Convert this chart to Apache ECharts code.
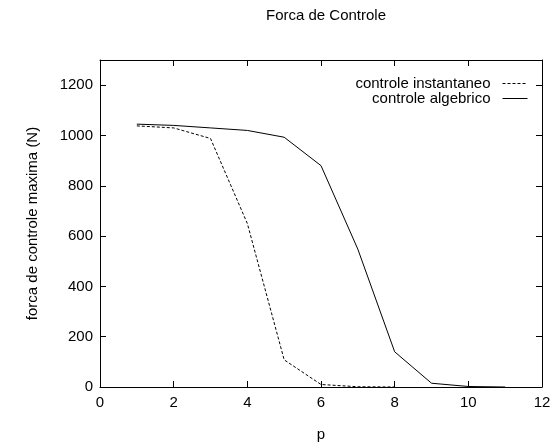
<!DOCTYPE html>
<html><head><meta charset="utf-8">
<script src="https://cdn.jsdelivr.net/npm/echarts@6/dist/echarts.min.js"></script>
<style>html,body{margin:0;padding:0;background:#fff}#c{width:556px;height:447px}</style>
</head><body><div id="c"></div>
<script>
const pInst = [1,2,3,4,5,6,7,8];
const instantaneo = [1038,1030,988,650,108,10,1,0];
const pAlg = [1,2,3,4,5,6,7,8,9,10,11];
const algebrico = [1045,1040,1030,1020,993,880,548,140,15,2,0];
const xTicks = [0,2,4,6,8,10,12];
const yTicks = [0,200,400,600,800,1000,1200];

const font = 'Liberation Sans, Arial, Helvetica, sans-serif';
const FS = 15;
const chart = echarts.init(document.getElementById('c'), null, {renderer:'canvas'});
const axisCommon = {
  axisLine:{show:true,onZero:false,lineStyle:{color:'#000',width:1}},
  axisTick:{show:true,inside:true,length:6,lineStyle:{color:'#000'}},
  splitLine:{show:false}
};
chart.setOption({
  animation:false,
  backgroundColor:'#fff',
  title:{text:'Forca de Controle',left:321,textAlign:'center',top:3,
    textStyle:{fontFamily:font,fontSize:FS,fontWeight:'normal',color:'#000'}},
  legend:{orient:'vertical',right:23,top:71,align:'right',itemWidth:25,itemHeight:10,itemGap:0,
    itemStyle:{opacity:0},
    lineStyle:{width:1},
    textStyle:{fontFamily:font,fontSize:FS,color:'#000',lineHeight:14,padding:[0,7,0,0]},
    data:['controle instantaneo','controle algebrico']},
  grid:{left:100,right:14,top:60,bottom:58},
  xAxis:[
    Object.assign({type:'value',min:0,max:12,interval:2,position:'bottom',
      name:'p',nameLocation:'middle',nameGap:40,
      nameTextStyle:{fontFamily:font,fontSize:FS,color:'#000'},
      axisLabel:{fontFamily:font,fontSize:FS,color:'#000',margin:8}},axisCommon),
    Object.assign({type:'value',min:0,max:12,interval:2,position:'top',axisLabel:{show:false}},axisCommon)
  ],
  yAxis:[
    Object.assign({type:'value',min:0,max:1300,interval:200,position:'left',
      name:'forca de controle maxima (N)',nameLocation:'middle',nameGap:60,
      nameTextStyle:{fontFamily:font,fontSize:FS,color:'#000'},
      axisLabel:{fontFamily:font,fontSize:FS,color:'#000',margin:7,
        formatter:v=>yTicks.includes(v)?String(v):''}},axisCommon),
    Object.assign({type:'value',min:0,max:1300,interval:200,position:'right',axisLabel:{show:false}},axisCommon)
  ],
  series:[
    {name:'controle instantaneo',type:'line',showSymbol:false,symbol:'none',
      data:pInst.map((p,i)=>[p,instantaneo[i]]),
      lineStyle:{color:'#000',width:1,type:[3,2]},itemStyle:{color:'#000'}},
    {name:'controle algebrico',type:'line',showSymbol:false,symbol:'none',
      data:pAlg.map((p,i)=>[p,algebrico[i]]),
      lineStyle:{color:'#000',width:1},itemStyle:{color:'#000'}}
  ]
});
</script></body></html>
